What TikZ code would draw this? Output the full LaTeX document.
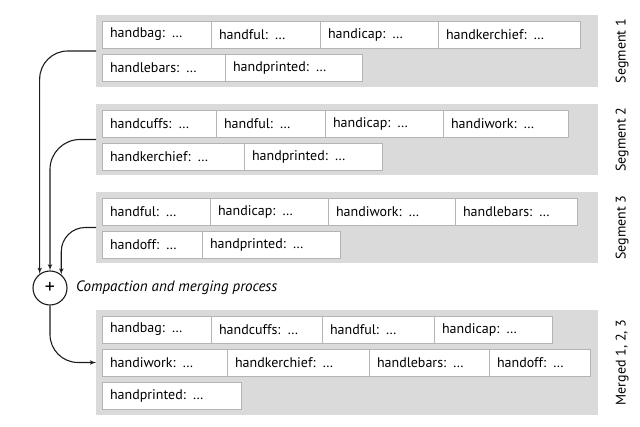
\documentclass[tikz,border=0pt]{standalone}
\usepackage{fontspec}
\setmainfont{PT Sans}
\usetikzlibrary{positioning,calc,arrows}
\definecolor{panelgray}{HTML}{DADADA}
\definecolor{boxline}{HTML}{B4B4B4}
\definecolor{linedark}{HTML}{1C1C1C}
\tikzset{
    panel/.style = {fill=panelgray, rectangle, anchor=north west,
        minimum width=502pt, inner sep=0pt, outer sep=0pt},
    keybox/.style = {draw=boxline, fill=white, rectangle, line width=0.8pt,
        minimum height=27pt, inner xsep=8pt, inner ysep=0pt, outer sep=0pt,
        align=left, font=\fontsize{14}{16}\selectfont},
    seglabel/.style = {rotate=90, font=\fontsize{14}{16}\selectfont},
    sum/.style = {draw=linedark, circle, line width=1.1pt, minimum size=34pt,
        inner sep=0pt, font=\fontsize{20}{20}\selectfont},
    arrow/.style = {draw=linedark, ->, line width=1.1pt}
}
\begin{document}
\begin{tikzpicture}[x=1pt, y=-1pt, >=latex']
        \useasboundingbox (0,0) rectangle (640,427);
        % segment 1
        \node [panel, minimum height=72pt] (seg1) at (96,15) {};
        \node [keybox, text width=93pt, below right=6pt and 6pt of seg1.north west] (s1a) {handbag: …};
        \node [keybox, text width=93pt, right=0pt of s1a] (s1b) {handful: …};
        \node [keybox, text width=102pt, right=0pt of s1b] (s1c) {handicap: …};
        \node [keybox, text width=126pt, right=0pt of s1c] (s1d) {handkerchief: …};
        \node [keybox, text width=107pt, below right=6pt and 0pt of s1a.south west] (s1e) {handlebars: …};
        \node [keybox, text width=121pt, right=0pt of s1e] (s1f) {handprinted: …};
        \node [seglabel] (lab1) at ($(seg1.east)+(24,0)$) {Segment 1};
        % segment 2
        \node [panel, minimum height=71pt] (seg2) at (96,104) {};
        \node [keybox, text width=98pt, below right=6pt and 6pt of seg2.north west] (s2a) {handcuffs: …};
        \node [keybox, text width=93pt, right=0pt of s2a] (s2b) {handful: …};
        \node [keybox, text width=102pt, right=0pt of s2b] (s2c) {handicap: …};
        \node [keybox, text width=109pt, right=0pt of s2c] (s2d) {handiwork: …};
        \node [keybox, text width=126pt, below right=6pt and 0pt of s2a.south west] (s2e) {handkerchief: …};
        \node [keybox, text width=122pt, right=0pt of s2e] (s2f) {handprinted: …};
        \node [seglabel] (lab2) at ($(seg2.east)+(24,0)$) {Segment 2};
        % segment 3
        \node [panel, minimum height=71pt] (seg3) at (96,192) {};
        \node [keybox, text width=92pt, below right=6pt and 6pt of seg3.north west] (s3a) {handful: …};
        \node [keybox, text width=102pt, right=0pt of s3a] (s3b) {handicap: …};
        \node [keybox, text width=111pt, right=0pt of s3b] (s3c) {handiwork: …};
        \node [keybox, text width=106pt, right=0pt of s3c] (s3d) {handlebars: …};
        \node [keybox, text width=84pt, below right=6pt and 0pt of s3a.south west] (s3e) {handoff: …};
        \node [keybox, text width=122pt, right=0pt of s3e] (s3f) {handprinted: …};
        \node [seglabel] (lab3) at ($(seg3.east)+(24,0)$) {Segment 3};
        % merged segment
        \node [panel, minimum height=105pt] (merged) at (96,310) {};
        \node [keybox, text width=93pt, below right=6pt and 6pt of merged.north west] (m1) {handbag: …};
        \node [keybox, text width=95pt, right=0pt of m1] (m2) {handcuffs: …};
        \node [keybox, text width=96pt, right=0pt of m2] (m3) {handful: …};
        \node [keybox, text width=102pt, right=0pt of m3] (m4) {handicap: …};
        \node [keybox, text width=109pt, below right=6pt and 0pt of m1.south west] (m5) {handiwork: …};
        \node [keybox, text width=126pt, right=0pt of m5] (m6) {handkerchief: …};
        \node [keybox, text width=104pt, right=0pt of m6] (m7) {handlebars: …};
        \node [keybox, text width=85pt, right=0pt of m7] (m8) {handoff: …};
        \node [keybox, text width=123pt, below right=6pt and 0pt of m5.south west] (m9) {handprinted: …};
        \node [seglabel] (lab4) at ($(merged.east)+(24,0)$) {Merged 1, 2, 3};
        % merging
        \node [sum] (plus) at (50,288) {+};
        \node [right=5pt of plus, font=\itshape\fontsize{15}{17}\selectfont] (proc) {Compaction and merging process};
        \draw [arrow, rounded corners=28pt] (seg1.west) -| (plus.126);
        \draw [arrow, rounded corners=30pt] (seg2.west) -| (plus.north);
        \draw [arrow, rounded corners=24pt] (seg3.west) -| (plus.50);
        \draw [arrow, rounded corners=28pt] (plus.south) |- (merged.west);
\end{tikzpicture}
\end{document}
